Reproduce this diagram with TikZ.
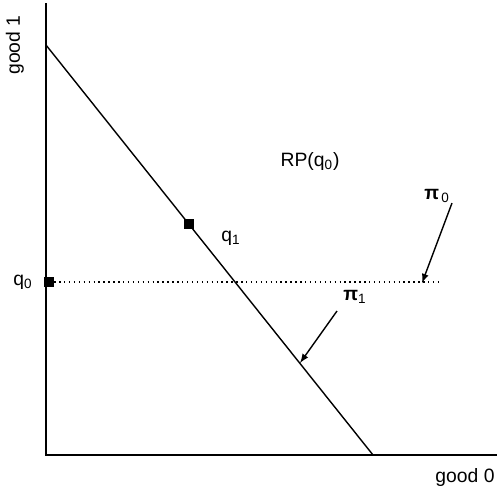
\documentclass[tikz,border=0pt]{standalone}
\usepackage{fontspec}
\setmainfont{Liberation Sans}
\usetikzlibrary{positioning}
\usetikzlibrary{calc}
\begin{document}
\begin{tikzpicture}[x=0.02cm, y=-0.02cm, font=\fontsize{11}{13}\selectfont]
\useasboundingbox (0,0) rectangle (497,490);
\begin{scope}[every node/.style={inner sep=0pt}]
    \coordinate (O) at (46,455);
    \coordinate (ytop) at (46,3);
    \coordinate (xend) at (497,455);
    \coordinate (a) at (46,45);
    \coordinate (b) at (373,455);
    \coordinate (dend) at (440,282);
    \node[fill, minimum size=5.5pt] (q0) at (49,282) {};
    \node[fill, minimum size=5.5pt] (q1) at (189,224) {};
    \node (q0lab) at (23,282) {q\textsubscript{0}};
    \node (q1lab) at (231,238) {q\textsubscript{1}};
    \node (rp) at (310,162) {RP(q\textsubscript{0})};
    \node (pi0) at (437,196) {\textbf{π}\textsubscript{\,0}};
    \node (pi1) at (355,297) {\textbf{π}\textsubscript{1}};
    \node[rotate=90] (g1) at (15,45) {good 1};
    \node (g0) at (465,477) {good 0};
    \coordinate (t0) at (422,283);
    \coordinate (t1) at (300,363);
\end{scope}

\draw[line width=1.1pt] (ytop) -- (O) -- (xend);
\draw[line width=0.8pt] (a) -- (b);
\draw[dotted, thick] (q0) -- (dend);
\draw[->, line width=0.8pt, >=latex] (452,203) -- (t0);
\draw[->, line width=0.8pt, >=latex] (337,311) -- (t1);
\end{tikzpicture}
\end{document}
